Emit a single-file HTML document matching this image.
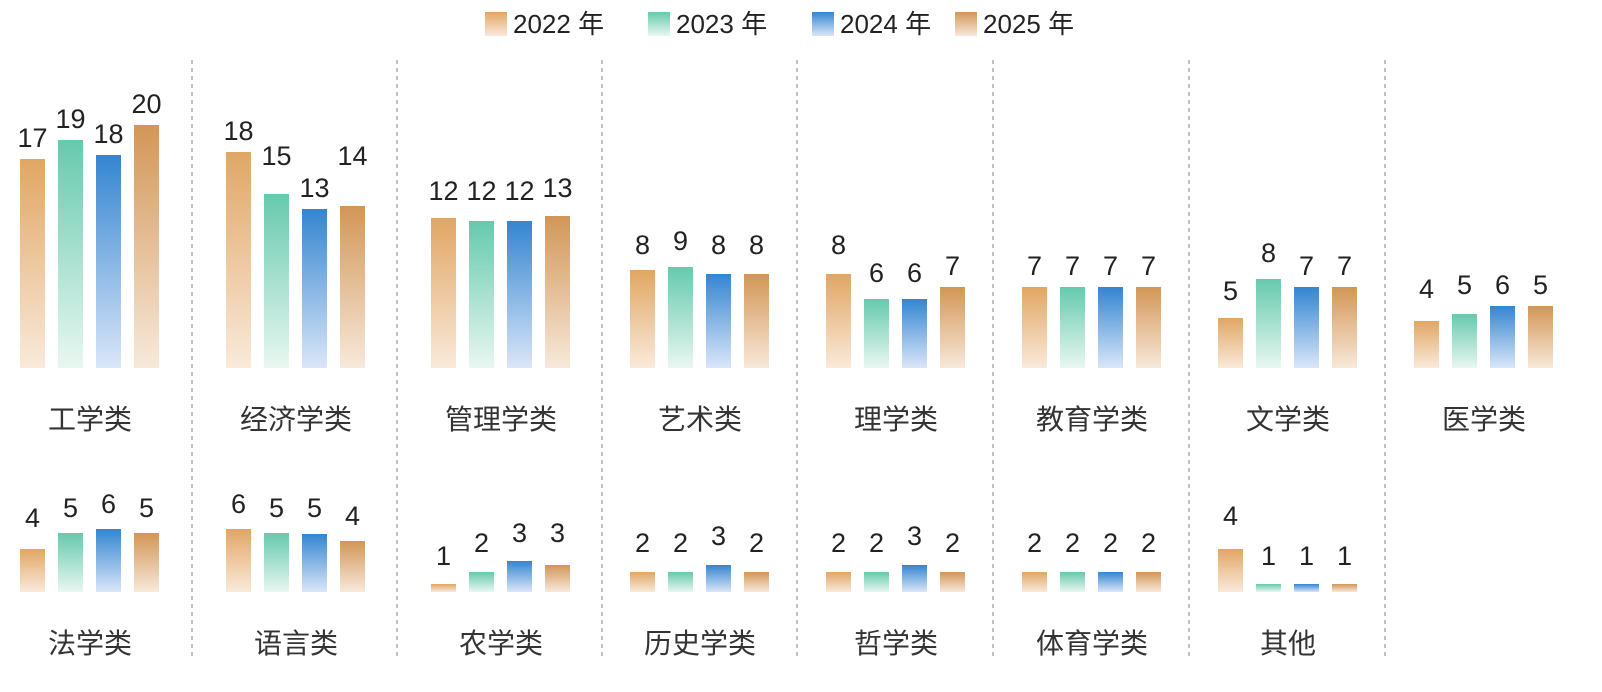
<!DOCTYPE html>
<html><head><meta charset="utf-8"><style>
html,body{margin:0;padding:0;background:#fff;}
svg{display:block;font-family:"Liberation Sans","Noto Sans CJK SC",sans-serif;}
.v{font-size:27px;fill:#222;text-anchor:middle;}
.c{font-size:28px;fill:#333;text-anchor:middle;}
</style></head><body>
<svg width="1602" height="692" viewBox="0 0 1602 692" xmlns="http://www.w3.org/2000/svg">
<defs>
<linearGradient id="g0" x1="0" y1="0" x2="0" y2="1"><stop offset="0" stop-color="#e1a664"/><stop offset="1" stop-color="#f9eadb"/></linearGradient>
<linearGradient id="g1" x1="0" y1="0" x2="0" y2="1"><stop offset="0" stop-color="#66c9ad"/><stop offset="1" stop-color="#e9f7f1"/></linearGradient>
<linearGradient id="g2" x1="0" y1="0" x2="0" y2="1"><stop offset="0" stop-color="#3485d0"/><stop offset="1" stop-color="#dbe6f8"/></linearGradient>
<linearGradient id="g3" x1="0" y1="0" x2="0" y2="1"><stop offset="0" stop-color="#d29657"/><stop offset="1" stop-color="#f7e9db"/></linearGradient>
</defs>
<g fill="#222" font-size="26">
<rect x="485" y="12" width="22" height="24" fill="url(#g0)"/><text x="513" y="33">2022 年</text>
<rect x="648" y="12" width="22" height="24" fill="url(#g1)"/><text x="676" y="33">2023 年</text>
<rect x="812" y="12" width="22" height="24" fill="url(#g2)"/><text x="840" y="33">2024 年</text>
<rect x="955" y="12" width="22" height="24" fill="url(#g3)"/><text x="983" y="33">2025 年</text>
</g>
<g stroke="#999" stroke-width="1.2" stroke-dasharray="4,4">
<line x1="192" y1="60" x2="192" y2="660"/><line x1="397" y1="60" x2="397" y2="660"/>
<line x1="602" y1="60" x2="602" y2="660"/><line x1="797" y1="60" x2="797" y2="660"/>
<line x1="993" y1="60" x2="993" y2="660"/><line x1="1189" y1="60" x2="1189" y2="660"/>
<line x1="1385" y1="60" x2="1385" y2="660"/>
</g>

<g transform="translate(20,0)">
<rect x="0" y="159" width="25" height="209" fill="url(#g0)"/><text class="v" x="12.5" y="147">17</text>
<rect x="38" y="140" width="25" height="228" fill="url(#g1)"/><text class="v" x="50.5" y="128">19</text>
<rect x="76" y="155" width="25" height="213" fill="url(#g2)"/><text class="v" x="88.5" y="143">18</text>
<rect x="114" y="125" width="25" height="243" fill="url(#g3)"/><text class="v" x="126.5" y="113">20</text>
<text class="c" x="70" y="429">工学类</text></g>
<g transform="translate(226,0)">
<rect x="0" y="152" width="25" height="216" fill="url(#g0)"/><text class="v" x="12.5" y="140">18</text>
<rect x="38" y="194" width="25" height="174" fill="url(#g1)"/><text class="v" x="50.5" y="165">15</text>
<rect x="76" y="209" width="25" height="159" fill="url(#g2)"/><text class="v" x="88.5" y="197">13</text>
<rect x="114" y="206" width="25" height="162" fill="url(#g3)"/><text class="v" x="126.5" y="165">14</text>
<text class="c" x="70" y="429">经济学类</text></g>
<g transform="translate(431,0)">
<rect x="0" y="218" width="25" height="150" fill="url(#g0)"/><text class="v" x="12.5" y="200">12</text>
<rect x="38" y="221" width="25" height="147" fill="url(#g1)"/><text class="v" x="50.5" y="200">12</text>
<rect x="76" y="221" width="25" height="147" fill="url(#g2)"/><text class="v" x="88.5" y="200">12</text>
<rect x="114" y="216" width="25" height="152" fill="url(#g3)"/><text class="v" x="126.5" y="197">13</text>
<text class="c" x="70" y="429">管理学类</text></g>
<g transform="translate(630,0)">
<rect x="0" y="270" width="25" height="98" fill="url(#g0)"/><text class="v" x="12.5" y="254">8</text>
<rect x="38" y="267" width="25" height="101" fill="url(#g1)"/><text class="v" x="50.5" y="250">9</text>
<rect x="76" y="274" width="25" height="94" fill="url(#g2)"/><text class="v" x="88.5" y="254">8</text>
<rect x="114" y="274" width="25" height="94" fill="url(#g3)"/><text class="v" x="126.5" y="254">8</text>
<text class="c" x="70" y="429">艺术类</text></g>
<g transform="translate(826,0)">
<rect x="0" y="274" width="25" height="94" fill="url(#g0)"/><text class="v" x="12.5" y="254">8</text>
<rect x="38" y="299" width="25" height="69" fill="url(#g1)"/><text class="v" x="50.5" y="282">6</text>
<rect x="76" y="299" width="25" height="69" fill="url(#g2)"/><text class="v" x="88.5" y="282">6</text>
<rect x="114" y="287" width="25" height="81" fill="url(#g3)"/><text class="v" x="126.5" y="275">7</text>
<text class="c" x="70" y="429">理学类</text></g>
<g transform="translate(1022,0)">
<rect x="0" y="287" width="25" height="81" fill="url(#g0)"/><text class="v" x="12.5" y="275">7</text>
<rect x="38" y="287" width="25" height="81" fill="url(#g1)"/><text class="v" x="50.5" y="275">7</text>
<rect x="76" y="287" width="25" height="81" fill="url(#g2)"/><text class="v" x="88.5" y="275">7</text>
<rect x="114" y="287" width="25" height="81" fill="url(#g3)"/><text class="v" x="126.5" y="275">7</text>
<text class="c" x="70" y="429">教育学类</text></g>
<g transform="translate(1218,0)">
<rect x="0" y="318" width="25" height="50" fill="url(#g0)"/><text class="v" x="12.5" y="300">5</text>
<rect x="38" y="279" width="25" height="89" fill="url(#g1)"/><text class="v" x="50.5" y="262">8</text>
<rect x="76" y="287" width="25" height="81" fill="url(#g2)"/><text class="v" x="88.5" y="275">7</text>
<rect x="114" y="287" width="25" height="81" fill="url(#g3)"/><text class="v" x="126.5" y="275">7</text>
<text class="c" x="70" y="429">文学类</text></g>
<g transform="translate(1414,0)">
<rect x="0" y="321" width="25" height="47" fill="url(#g0)"/><text class="v" x="12.5" y="298">4</text>
<rect x="38" y="314" width="25" height="54" fill="url(#g1)"/><text class="v" x="50.5" y="294">5</text>
<rect x="76" y="306" width="25" height="62" fill="url(#g2)"/><text class="v" x="88.5" y="294">6</text>
<rect x="114" y="306" width="25" height="62" fill="url(#g3)"/><text class="v" x="126.5" y="294">5</text>
<text class="c" x="70" y="429">医学类</text></g>

<g transform="translate(20,0)">
<rect x="0" y="549" width="25" height="43" fill="url(#g0)"/><text class="v" x="12.5" y="527">4</text>
<rect x="38" y="533" width="25" height="59" fill="url(#g1)"/><text class="v" x="50.5" y="517">5</text>
<rect x="76" y="529" width="25" height="63" fill="url(#g2)"/><text class="v" x="88.5" y="513">6</text>
<rect x="114" y="533" width="25" height="59" fill="url(#g3)"/><text class="v" x="126.5" y="517">5</text>
<text class="c" x="70" y="653">法学类</text></g>
<g transform="translate(226,0)">
<rect x="0" y="529" width="25" height="63" fill="url(#g0)"/><text class="v" x="12.5" y="513">6</text>
<rect x="38" y="533" width="25" height="59" fill="url(#g1)"/><text class="v" x="50.5" y="517">5</text>
<rect x="76" y="534" width="25" height="58" fill="url(#g2)"/><text class="v" x="88.5" y="517">5</text>
<rect x="114" y="541" width="25" height="51" fill="url(#g3)"/><text class="v" x="126.5" y="525">4</text>
<text class="c" x="70" y="653">语言类</text></g>
<g transform="translate(431,0)">
<rect x="0" y="584" width="25" height="8" fill="url(#g0)"/><text class="v" x="12.5" y="565">1</text>
<rect x="38" y="572" width="25" height="20" fill="url(#g1)"/><text class="v" x="50.5" y="552">2</text>
<rect x="76" y="561" width="25" height="31" fill="url(#g2)"/><text class="v" x="88.5" y="542">3</text>
<rect x="114" y="565" width="25" height="27" fill="url(#g3)"/><text class="v" x="126.5" y="542">3</text>
<text class="c" x="70" y="653">农学类</text></g>
<g transform="translate(630,0)">
<rect x="0" y="572" width="25" height="20" fill="url(#g0)"/><text class="v" x="12.5" y="552">2</text>
<rect x="38" y="572" width="25" height="20" fill="url(#g1)"/><text class="v" x="50.5" y="552">2</text>
<rect x="76" y="565" width="25" height="27" fill="url(#g2)"/><text class="v" x="88.5" y="545">3</text>
<rect x="114" y="572" width="25" height="20" fill="url(#g3)"/><text class="v" x="126.5" y="552">2</text>
<text class="c" x="70" y="653">历史学类</text></g>
<g transform="translate(826,0)">
<rect x="0" y="572" width="25" height="20" fill="url(#g0)"/><text class="v" x="12.5" y="552">2</text>
<rect x="38" y="572" width="25" height="20" fill="url(#g1)"/><text class="v" x="50.5" y="552">2</text>
<rect x="76" y="565" width="25" height="27" fill="url(#g2)"/><text class="v" x="88.5" y="545">3</text>
<rect x="114" y="572" width="25" height="20" fill="url(#g3)"/><text class="v" x="126.5" y="552">2</text>
<text class="c" x="70" y="653">哲学类</text></g>
<g transform="translate(1022,0)">
<rect x="0" y="572" width="25" height="20" fill="url(#g0)"/><text class="v" x="12.5" y="552">2</text>
<rect x="38" y="572" width="25" height="20" fill="url(#g1)"/><text class="v" x="50.5" y="552">2</text>
<rect x="76" y="572" width="25" height="20" fill="url(#g2)"/><text class="v" x="88.5" y="552">2</text>
<rect x="114" y="572" width="25" height="20" fill="url(#g3)"/><text class="v" x="126.5" y="552">2</text>
<text class="c" x="70" y="653">体育学类</text></g>
<g transform="translate(1218,0)">
<rect x="0" y="549" width="25" height="43" fill="url(#g0)"/><text class="v" x="12.5" y="525">4</text>
<rect x="38" y="584" width="25" height="8" fill="url(#g1)"/><text class="v" x="50.5" y="565">1</text>
<rect x="76" y="584" width="25" height="8" fill="url(#g2)"/><text class="v" x="88.5" y="565">1</text>
<rect x="114" y="584" width="25" height="8" fill="url(#g3)"/><text class="v" x="126.5" y="565">1</text>
<text class="c" x="70" y="653">其他</text></g>
</svg>
</body></html>
